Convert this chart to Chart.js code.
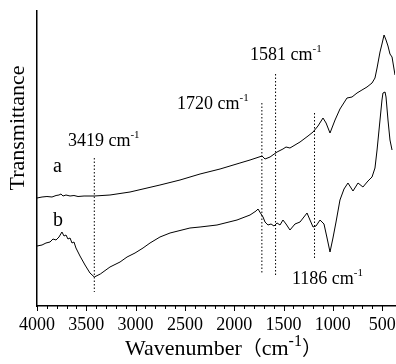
<!DOCTYPE html>
<html>
<head>
<meta charset="utf-8">
<script src="https://cdn.jsdelivr.net/npm/chart.js@4"></script>
<style>
  html, body { margin: 0; padding: 0; background: #fff; }
</style>
</head>
<body>
<canvas id="grafico" width="396" height="364"></canvas>
<script>
// ===============================
// DATA
// ===============================
const aWavenumber = [4000, 3949, 3899, 3848, 3807, 3777, 3757, 3736, 3706, 3665,
  3625, 3584, 3523, 3419, 3260, 3057, 2753, 2550, 2347, 2144,
  1942, 1840, 1718, 1688, 1637, 1566, 1506, 1475, 1435, 1333,
  1252, 1201, 1151, 1100, 1069, 1029, 978, 928, 857, 806,
  755, 705, 654, 603, 573, 552, 522, 502, 481, 461,
  441, 421, 400, 370];
const aTransmittance = [108, 109, 109.5, 109, 110.5, 111, 112, 110, 111, 110,
  110.5, 109.5, 110, 110, 111, 114, 121, 126, 132, 137,
  143, 146, 150, 147, 149, 154, 157, 159, 158, 164,
  170, 174, 180, 188, 183, 173, 186, 197, 208, 209,
  213, 216, 219, 223, 228, 238, 254, 262, 271, 266,
  260, 252, 249, 231];

const bWavenumber = [4000, 3949, 3909, 3868, 3838, 3807, 3777, 3747, 3726, 3706,
  3686, 3665, 3645, 3625, 3605, 3564, 3513, 3463, 3419, 3358,
  3260, 3158, 3087, 3006, 2925, 2854, 2753, 2651, 2449, 2347,
  2175, 1972, 1840, 1779, 1759, 1728, 1708, 1688, 1658, 1627,
  1597, 1566, 1536, 1506, 1475, 1435, 1384, 1333, 1262, 1232,
  1201, 1171, 1130, 1090, 1059, 1029, 999, 968, 928, 887,
  847, 796, 745, 695, 644, 603, 573, 552, 522, 502,
  492, 471, 461, 441, 421, 400];
const bTransmittance = [60, 61, 63, 64, 67, 66, 69, 74, 70, 71,
  67, 68, 63, 64, 58, 50, 41, 33, 29, 32,
  39, 44, 49, 53, 58, 63, 69, 73, 78, 79,
  81, 86, 91, 95, 97, 92, 89, 84, 81, 82,
  80, 83, 81, 86, 82, 76, 82, 84, 93, 86,
  79, 80, 86, 82, 68, 54, 68, 84, 106, 117,
  123, 115, 123, 119, 125, 129, 138, 156, 186, 206,
  213, 214, 209, 186, 166, 156];

// marked bands (dotted lines)
const peakWavenumber = [3419, 1720, 1581, 1186];
const peakLineTop = [148, 203, 232, 193];
const peakLineBottom = [14, 33, 31, 46];

// x axis
const tickLabels = [4000, 3500, 3000, 2500, 2000, 1500, 1000, 500];

// ===============================
// DATASETS
// ===============================
function montarSerie(xs, ys) {
  return xs.map((x, i) => ({ x: x, y: ys[i] }));
}

const datasets = [
  { data: montarSerie(aWavenumber, aTransmittance) },
  { data: montarSerie(bWavenumber, bTransmittance) }
];

peakWavenumber.forEach((w, i) => {
  datasets.push({
    data: [{ x: w, y: peakLineTop[i] }, { x: w, y: peakLineBottom[i] }],
    borderDash: [1.5, 2]
  });
});

// ===============================
// TEXT PLUGIN
// ===============================
const SERIF = "'Liberation Serif', 'Times New Roman', serif";

// draws a list of [text, size, rise] pieces in a row
function escreverPartes(ctx, partes, x, y) {
  ctx.textBaseline = "alphabetic";
  ctx.textAlign = "left";
  partes.forEach(p => {
    ctx.font = p[1] + "px " + (p[3] || SERIF);
    ctx.fillText(p[0], x, y - p[2]);
    x += ctx.measureText(p[0]).width;
  });
}

// label anchors: [text, wavenumber of left edge, value of baseline]
const peakTexts = [
  ["3419", 3686, 160],
  ["1720", 2580, 197],
  ["1581", 1840, 246],
  ["1186", 1414, 22]
];
const curveTexts = [["a", 3787, 134], ["b", 3787, 80]];

const textos = {
  id: "textos",
  afterDraw(chart) {
    const ctx = chart.ctx;
    const xs = chart.scales.x, ys = chart.scales.y;
    const area = chart.chartArea;
    ctx.save();
    ctx.fillStyle = "#000";

    peakTexts.forEach(t => {
      escreverPartes(ctx, [[t[0] + " cm", 18, 0], ["-1", 11, 8]],
        xs.getPixelForValue(t[1]), ys.getPixelForValue(t[2]));
    });

    curveTexts.forEach(t => {
      escreverPartes(ctx, [[t[0], 20, 0]], xs.getPixelForValue(t[1]) - 5, ys.getPixelForValue(t[2]));
    });

    // x title
    escreverPartes(ctx, [
      ["Wavenumber", 22, 0],
      ["\uFF08", 20, 0, "'Noto Sans CJK SC', sans-serif"],
      ["cm", 22, 0],
      ["-1", 16, 9],
      ["\uFF09", 20, 0, "'Noto Sans CJK SC', sans-serif"]
    ], 125, 355);

    // y title
    ctx.translate(24, 128);
    ctx.rotate(-Math.PI / 2);
    ctx.font = "22px " + SERIF;
    ctx.textAlign = "center";
    ctx.textBaseline = "alphabetic";
    ctx.fillText("Transmittance", 0, 0);
    ctx.restore();

    // minor / major ticks on x axis
    ctx.save();
    ctx.strokeStyle = "#000";
    ctx.lineWidth = 1;
    ctx.beginPath();
    for (let v = 500; v <= 4000; v += 100) {
      const px = Math.round(xs.getPixelForValue(v)) + 0.5;
      const len = v % 500 === 0 ? 5 : 3;
      ctx.moveTo(px, area.bottom);
      ctx.lineTo(px, area.bottom + len);
    }
    ctx.stroke();
    ctx.restore();
  }
};

// ===============================
// CHART
// ===============================
const ctx = document.getElementById("grafico").getContext("2d");

new Chart(ctx, {
  type: "line",
  data: { datasets: datasets },
  options: {
    responsive: false,
    animation: false,
    devicePixelRatio: 1,
    layout: { padding: { top: 11, right: 1, left: 0, bottom: 0 } },
    elements: {
      point: { radius: 0 },
      line: { borderColor: "#000", borderWidth: 1, tension: 0 }
    },
    plugins: {
      legend: { display: false },
      tooltip: { enabled: false }
    },
    scales: {
      x: {
        type: "linear",
        reverse: true,
        min: 370,
        max: 4000,
        afterBuildTicks: scale => {
          scale.ticks = tickLabels.map(v => ({ value: v }));
        },
        afterFit: scale => {
          scale.height = 58;
          scale.paddingLeft = 0;
          scale.paddingRight = 0;
        },
        grid: { drawOnChartArea: false, drawTicks: false },
        border: { display: true, color: "#000", width: 1.5 },
        ticks: {
          padding: 8,
          maxRotation: 0,
          autoSkip: false,
          color: "#000",
          font: { family: SERIF, size: 18 },
          callback: v => String(v)
        }
      },
      y: {
        min: 0,
        max: 295,
        afterFit: scale => {
          scale.width = 37;
          scale.paddingTop = 0;
          scale.paddingBottom = 0;
        },
        grid: { drawOnChartArea: false, drawTicks: false },
        border: { display: true, color: "#000", width: 1.5 },
        ticks: { display: false }
      }
    }
  },
  plugins: [textos]
});
</script>
</body>
</html>
